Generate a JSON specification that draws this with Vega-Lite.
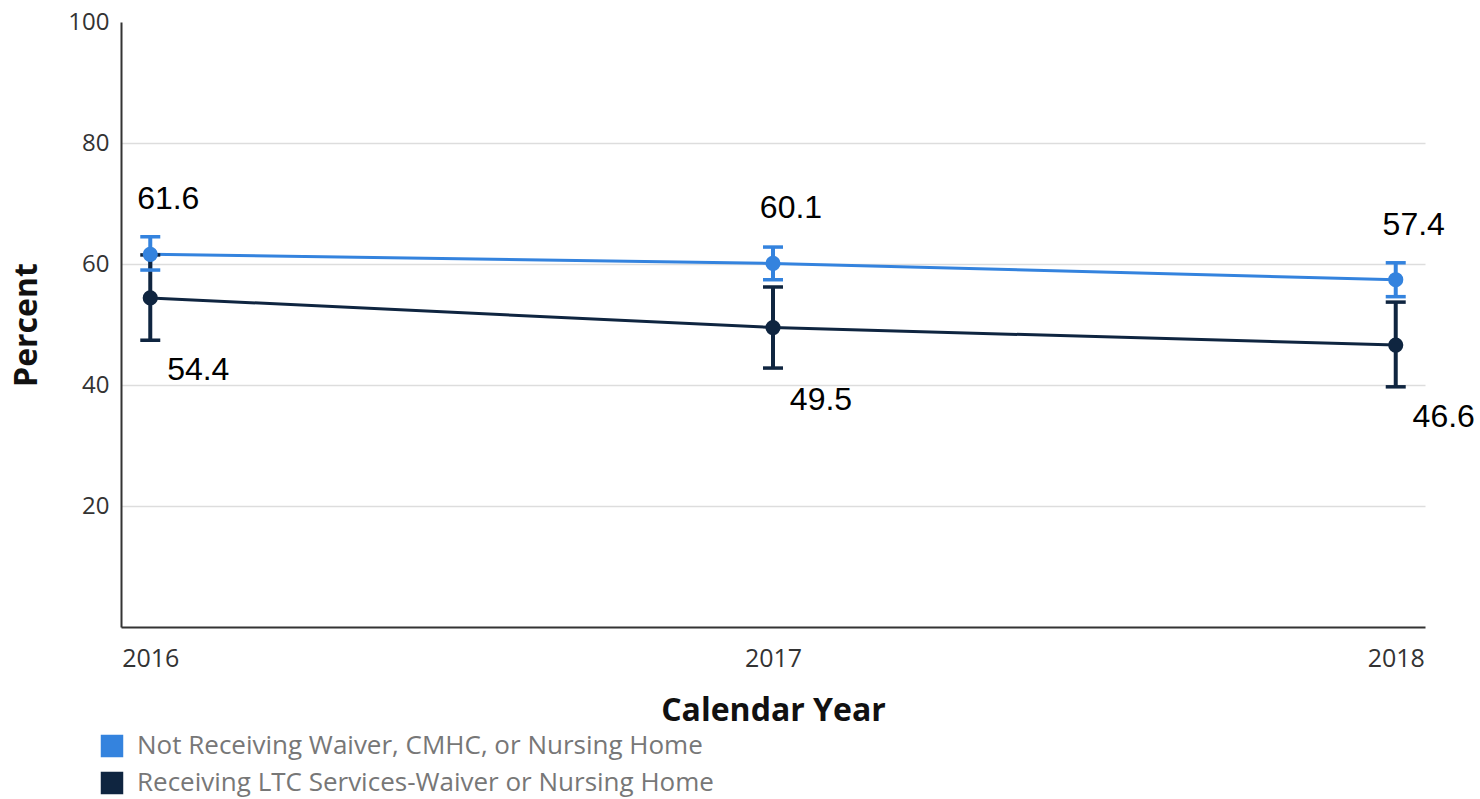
{
  "$schema": "https://vega.github.io/schema/vega-lite/v6.json",
  "width": 1304,
  "height": 605,
  "autosize": {"type": "none"},
  "padding": {"left": 121, "top": 22, "right": 55, "bottom": 172},
  "background": "white",
  "data": {
    "values": [
      {"year": "2016", "group": "Not Receiving Waiver, CMHC, or Nursing Home", "value": 61.6, "lower": 59.0, "upper": 64.5},
      {"year": "2017", "group": "Not Receiving Waiver, CMHC, or Nursing Home", "value": 60.1, "lower": 57.4, "upper": 62.8},
      {"year": "2018", "group": "Not Receiving Waiver, CMHC, or Nursing Home", "value": 57.4, "lower": 54.6, "upper": 60.2},
      {"year": "2016", "group": "Receiving LTC Services-Waiver or Nursing Home", "value": 54.4, "lower": 47.4, "upper": 61.5},
      {"year": "2017", "group": "Receiving LTC Services-Waiver or Nursing Home", "value": 49.5, "lower": 42.8, "upper": 56.2},
      {"year": "2018", "group": "Receiving LTC Services-Waiver or Nursing Home", "value": 46.6, "lower": 39.7, "upper": 53.7}
    ]
  },
  "config": {
    "view": {"stroke": null},
    "font": "Open Sans"
  },
  "encoding": {
    "x": {
      "field": "year", "type": "ordinal",
      "scale": {"type": "point", "padding": 0.047},
      "axis": {
        "title": "Calendar Year", "titleFont": "Open Sans", "titleFontSize": 32, "titleFontWeight": "bold",
        "titleColor": "#111", "titlePadding": 24,
        "labelAngle": 0, "labelFont": "Open Sans", "labelFontSize": 25, "labelColor": "#333",
        "labelPadding": 19, "ticks": false, "domainColor": "#333", "domainWidth": 2, "grid": false
      }
    },
    "color": {
      "field": "group", "type": "nominal",
      "scale": {"range": ["#3483de", "#0f2540"]},
      "legend": {
        "orient": "none", "legendX": -22, "legendY": 711, "direction": "vertical", "title": null,
        "symbolType": "square", "symbolSize": 440, "symbolStrokeColor": "#222", "symbolStrokeWidth": 1.5,
        "symbolOpacity": 1,
        "labelFont": "Open Sans", "labelFontSize": 26, "labelColor": "#777", "labelLimit": 0,
        "rowPadding": 9, "labelOffset": 12
      }
    }
  },
  "layer": [
    {
      "mark": {"type": "line", "strokeWidth": 3},
      "encoding": {
        "y": {
          "field": "value", "type": "quantitative",
          "scale": {"domain": [0, 100]},
          "axis": {
            "title": "Percent", "titleFont": "Open Sans", "titleFontSize": 32, "titleFontWeight": "bold", "titleColor": "#111",
            "titlePadding": 24,
            "values": [20, 40, 60, 80, 100], "labelFont": "Open Sans", "labelFontSize": 24, "labelColor": "#333",
            "labelPadding": 12, "ticks": false, "domainColor": "#333", "domainWidth": 2,
            "grid": true, "gridColor": "#dddddd", "gridWidth": 1.5,
            "gridOpacity": {"condition": {"test": "datum.value == 100", "value": 0}, "value": 1}
          }
        }
      }
    },
    {
      "mark": {"type": "rule", "strokeWidth": 4, "opacity": 1},
      "encoding": {"y": {"field": "lower", "type": "quantitative"}, "y2": {"field": "upper"}}
    },
    {
      "mark": {"type": "tick", "thickness": 3.5, "size": 20, "opacity": 1},
      "encoding": {"y": {"field": "lower", "type": "quantitative"}}
    },
    {
      "mark": {"type": "tick", "thickness": 3.5, "size": 20, "opacity": 1},
      "encoding": {"y": {"field": "upper", "type": "quantitative"}}
    },
    {
      "mark": {"type": "circle", "size": 230, "opacity": 1},
      "encoding": {"y": {"field": "value", "type": "quantitative"}}
    },
    {
      "transform": [{"filter": "datum.group == 'Not Receiving Waiver, CMHC, or Nursing Home'"}],
      "mark": {"type": "text", "font": "Liberation Sans", "fontSize": 32, "dx": 18, "dy": -55},
      "encoding": {
        "y": {"field": "value", "type": "quantitative"},
        "text": {"field": "value", "type": "quantitative", "format": ".1f"},
        "color": {"value": "black"}
      }
    },
    {
      "transform": [{"filter": "datum.group == 'Receiving LTC Services-Waiver or Nursing Home'"}],
      "mark": {"type": "text", "font": "Liberation Sans", "fontSize": 32, "dx": 48, "dy": 72},
      "encoding": {
        "y": {"field": "value", "type": "quantitative"},
        "text": {"field": "value", "type": "quantitative", "format": ".1f"},
        "color": {"value": "black"}
      }
    }
  ]
}
